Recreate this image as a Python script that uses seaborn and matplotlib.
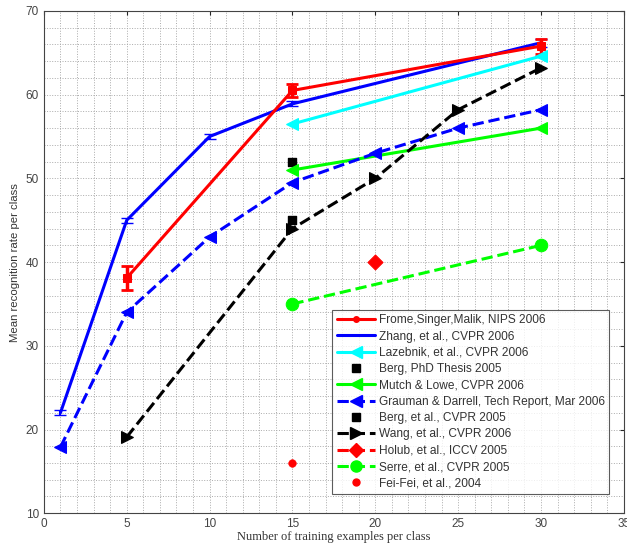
import numpy as np
import seaborn as sns
import matplotlib
matplotlib.use("Agg")
import matplotlib.pyplot as plt
from matplotlib.lines import Line2D
from matplotlib.ticker import MultipleLocator

# data
frome_x = [5, 15, 30]
frome_y = [38.1, 60.5, 65.8]
frome_err = [1.4, 0.8, 0.9]

zhang_x = [1, 5, 10, 15, 30]
zhang_y = [22.0, 45.0, 55.0, 58.9, 66.2]
zhang_err = [0.3, 0.3, 0.3, 0.3, 0.5]

lazebnik_x = [15, 30]
lazebnik_y = [56.5, 64.6]

berg_phd_x = [15]
berg_phd_y = [52.0]

mutch_x = [15, 30]
mutch_y = [51.0, 56.0]

grauman_x = [1, 5, 10, 15, 20, 25, 30]
grauman_y = [17.9, 34.0, 43.0, 49.5, 53.0, 56.0, 58.2]

berg_cvpr_x = [15]
berg_cvpr_y = [45.0]

wang_x = [5, 15, 20, 25, 30]
wang_y = [19.1, 44.0, 50.0, 58.2, 63.2]

holub_x = [20]
holub_y = [40.0]

serre_x = [15, 30]
serre_y = [35.0, 42.0]

feifei_x = [15]
feifei_y = [16.0]

labels = ["Frome,Singer,Malik, NIPS 2006", "Zhang, et al., CVPR 2006",
          "Lazebnik, et al., CVPR 2006", "Berg, PhD Thesis 2005",
          "Mutch & Lowe, CVPR 2006", "Grauman & Darrell, Tech Report, Mar 2006",
          "Berg, et al., CVPR 2005", "Wang, et al., CVPR 2006",
          "Holub, et al., ICCV 2005", "Serre, et al., CVPR 2005",
          "Fei-Fei, et al., 2004"]

sns.set_style("white")
plt.rcParams['font.family'] = ['Liberation Sans', 'DejaVu Sans']

fig = plt.figure(figsize=(6.27, 5.46), dpi=100)
ax = fig.add_axes([0.070, 0.060, 0.925, 0.920])

red, blue, cyan, green, black = "#ff0000", "#0000ff", "#00ffff", "#00ff00", "#000000"
lw = 2.2

# lines drawn with seaborn
sns.lineplot(x=zhang_x, y=zhang_y, color=blue, lw=lw, ax=ax)
ax.errorbar(zhang_x, zhang_y, yerr=zhang_err, fmt="none", ecolor=blue, elinewidth=1.5, capsize=4)
sns.lineplot(x=frome_x, y=frome_y, color=red, lw=lw, marker="s", markersize=6,
             markeredgecolor=red, ax=ax)
ax.errorbar(frome_x, frome_y, yerr=frome_err, fmt="none", ecolor=red, elinewidth=2.5, capsize=4, capthick=2)
sns.lineplot(x=lazebnik_x, y=lazebnik_y, color=cyan, lw=lw, marker="<", markersize=9,
             markeredgecolor=cyan, ax=ax)
sns.lineplot(x=mutch_x, y=mutch_y, color=green, lw=lw, marker="<", markersize=9,
             markeredgecolor=green, ax=ax)
sns.lineplot(x=grauman_x, y=grauman_y, color=blue, lw=lw, linestyle="--", marker="<",
             markersize=9, markeredgecolor=blue, ax=ax)
sns.lineplot(x=wang_x, y=wang_y, color=black, lw=lw, linestyle="--", marker=">",
             markersize=9, markeredgecolor=black, ax=ax)
sns.lineplot(x=serre_x, y=serre_y, color=green, lw=lw, linestyle="--", marker="o",
             markersize=9, markeredgecolor=green, ax=ax)

# single points
sns.scatterplot(x=berg_phd_x, y=berg_phd_y, color=black, marker="s", s=40,
                edgecolor=black, linewidth=1, ax=ax)
sns.scatterplot(x=berg_cvpr_x, y=berg_cvpr_y, color=black, marker="s", s=40,
                edgecolor=black, linewidth=1, ax=ax)
sns.scatterplot(x=holub_x, y=holub_y, color=red, marker="D", s=60, edgecolor=red, ax=ax)
sns.scatterplot(x=feifei_x, y=feifei_y, color=red, marker="o", s=30, edgecolor=red, ax=ax)

ax.set_xlim(0, 35)
ax.set_ylim(10, 70)
ax.xaxis.set_major_locator(MultipleLocator(5))
ax.xaxis.set_minor_locator(MultipleLocator(1))
ax.yaxis.set_major_locator(MultipleLocator(10))
ax.yaxis.set_minor_locator(MultipleLocator(2))
ax.grid(which="both", linestyle=":", color="#aaaaaa", linewidth=0.7)
ax.set_axisbelow(True)
ax.tick_params(which="both", direction="in", top=True, right=True, labelsize=8.5,
               labelcolor="#444444", length=3)
ax.tick_params(which="minor", length=0)
for s in ax.spines.values():
    s.set_color("#444444")
    s.set_linewidth(0.8)

ax.set_xlabel("Number of training examples per class", fontsize=9, color="#333333",
              family="Liberation Serif", labelpad=1)
ax.set_ylabel("Mean recognition rate per class", fontsize=8.2, color="#333333", labelpad=4)

handles = [
    Line2D([], [], color=red, lw=lw, marker="o", markersize=4),
    Line2D([], [], color=blue, lw=lw),
    Line2D([], [], color=cyan, lw=lw, marker="<", markersize=9),
    Line2D([], [], color=black, lw=0, marker="s", markersize=6, markerfacecolor=black),
    Line2D([], [], color=green, lw=lw, marker="<", markersize=9),
    Line2D([], [], color=blue, lw=lw, linestyle="--", marker="<", markersize=9),
    Line2D([], [], color=black, lw=0, marker="s", markersize=6, markerfacecolor=black),
    Line2D([], [], color=black, lw=lw, linestyle="--", marker=">", markersize=9),
    Line2D([], [], color=red, lw=lw, linestyle="--", marker="D", markersize=7),
    Line2D([], [], color=green, lw=lw, linestyle="--", marker="o", markersize=8),
    Line2D([], [], color=red, lw=0, marker="o", markersize=5),
]
leg = ax.legend(handles, labels, loc="lower left", bbox_to_anchor=(0.497, 0.038),
                fontsize=8.6, frameon=True, fancybox=False, handlelength=3.2,
                handletextpad=0.3, labelspacing=0.36, borderpad=0.4,
                borderaxespad=0)
leg.get_frame().set_edgecolor("#333333")
leg.get_frame().set_linewidth(0.8)
for t in leg.get_texts():
    t.set_color("#333333")

fig.savefig("out.png", dpi=100)
